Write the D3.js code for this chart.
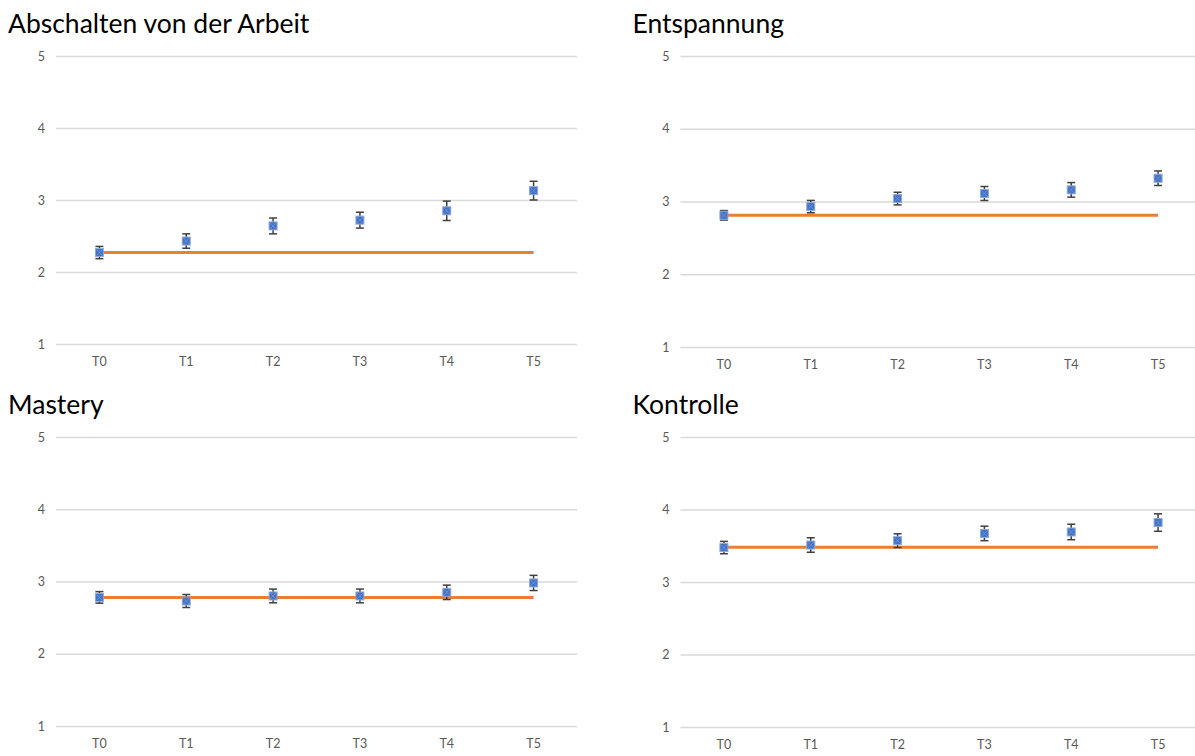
<!DOCTYPE html>
<html>
<head>
<meta charset="utf-8">
<script src="https://cdn.jsdelivr.net/npm/d3@7"></script>
<style>
  body { margin: 0; background: #fff; }
  svg { display: block; font-family: Lato, "Open Sans", sans-serif; }
</style>
</head>
<body>
<div id="chart"></div>
<script>

// The data
var categories = ["T0", "T1", "T2", "T3", "T4", "T5"];
var yTicks = [1, 2, 3, 4, 5];
var titles = ["Abschalten von der Arbeit", "Entspannung", "Mastery", "Kontrolle"];

var abschaltenMean = [2.27, 2.43, 2.64, 2.72, 2.85, 3.13];
var abschaltenErr = [0.085, 0.10, 0.11, 0.11, 0.135, 0.13];
var abschaltenBase = 2.27;

var entspannungMean = [2.81, 2.93, 3.04, 3.11, 3.16, 3.32];
var entspannungErr = [0.065, 0.085, 0.087, 0.096, 0.10, 0.10];
var entspannungBase = 2.81;

var masteryMean = [2.78, 2.73, 2.80, 2.80, 2.85, 2.98];
var masteryErr = [0.08, 0.09, 0.095, 0.095, 0.10, 0.105];
var masteryBase = 2.78;

var kontrolleMean = [3.475, 3.51, 3.57, 3.67, 3.69, 3.82];
var kontrolleErr = [0.085, 0.10, 0.095, 0.10, 0.107, 0.12];
var kontrolleBase = 3.48;

var means = [abschaltenMean, entspannungMean, masteryMean, kontrolleMean];
var errs = [abschaltenErr, entspannungErr, masteryErr, kontrolleErr];
var bases = [abschaltenBase, entspannungBase, masteryBase, kontrolleBase];

// The svg
var width = 1195;
var height = 756;

var svg = d3.select("#chart")
    .append("svg")
    .attr("width", width)
    .attr("height", height);

// where each of the 4 plot areas sits
var layout = [
    { left: 56, right: 577, top: 56, bottom: 344 },
    { left: 680.5, right: 1201.5, top: 56, bottom: 347 },
    { left: 56, right: 577, top: 437, bottom: 726 },
    { left: 680.5, right: 1201.5, top: 437, bottom: 727 }
];

layout.forEach(function (box, i) {

    var g = svg.append("g");

    var x = d3.scaleBand()
        .domain(categories)
        .range([box.left, box.right])
        .padding(0);

    var y = d3.scaleLinear()
        .domain([1, 5])
        .range([box.bottom, box.top]);

    var cx = function (c) { return x(c) + x.bandwidth() / 2 };

    // title
    g.append("text")
        .attr("x", box.left - 48)
        .attr("y", box.top - 23)
        .attr("font-size", 26.5)
        .attr("fill", "#000")
        .text(titles[i]);

    // gridlines + y labels
    g.append("g")
        .attr("transform", "translate(" + box.left + ",0)")
        .call(d3.axisLeft(y)
            .tickValues(yTicks)
            .tickSize(-(box.right - box.left))
            .tickPadding(11)
            .tickFormat(d3.format("d")))
        .call(function (a) { a.select(".domain").remove() })
        .call(function (a) {
            a.selectAll(".tick line").attr("stroke", "#d9d9d9").attr("stroke-width", 1.3);
            a.selectAll(".tick text").attr("fill", "#595959").attr("font-size", 12.5)
                .attr("font-family", "Lato, sans-serif");
        });

    // x axis labels
    g.append("g")
        .attr("transform", "translate(0," + box.bottom + ")")
        .call(d3.axisBottom(x).tickSize(0).tickPadding(13))
        .call(function (a) { a.select(".domain").remove() })
        .call(function (a) {
            a.selectAll(".tick text").attr("fill", "#595959").attr("font-size", 12.5)
                .attr("font-family", "Lato, sans-serif");
        });

    // baseline (value at T0)
    g.append("line")
        .attr("x1", cx(categories[0]))
        .attr("x2", cx(categories[categories.length - 1]))
        .attr("y1", y(bases[i]))
        .attr("y2", y(bases[i]))
        .attr("stroke", "#ed7d31")
        .attr("stroke-width", 3);

    var pts = categories.map(function (c, j) {
        return { cat: c, m: means[i][j], e: errs[i][j] };
    });

    // error bars
    var eb = g.selectAll("g.err")
        .data(pts)
        .enter()
        .append("g")
        .attr("class", "err")
        .attr("stroke", "#404040")
        .attr("stroke-width", 1.5);

    eb.append("line")
        .attr("x1", function (d) { return cx(d.cat) })
        .attr("x2", function (d) { return cx(d.cat) })
        .attr("y1", function (d) { return y(d.m - d.e) })
        .attr("y2", function (d) { return y(d.m + d.e) });

    eb.append("line")
        .attr("x1", function (d) { return cx(d.cat) - 4 })
        .attr("x2", function (d) { return cx(d.cat) + 4 })
        .attr("y1", function (d) { return y(d.m + d.e) })
        .attr("y2", function (d) { return y(d.m + d.e) });

    eb.append("line")
        .attr("x1", function (d) { return cx(d.cat) - 4 })
        .attr("x2", function (d) { return cx(d.cat) + 4 })
        .attr("y1", function (d) { return y(d.m - d.e) })
        .attr("y2", function (d) { return y(d.m - d.e) });

    // square markers
    var mk = g.selectAll("g.mk")
        .data(pts)
        .enter()
        .append("g")
        .attr("class", "mk")
        .attr("transform", function (d) { return "translate(" + cx(d.cat) + "," + y(d.m) + ")" });

    mk.append("rect")
        .attr("x", -4)
        .attr("y", -4)
        .attr("width", 8)
        .attr("height", 8)
        .attr("fill", "#4472c4")
        .attr("stroke", "#8eaadb")
        .attr("stroke-width", 1);

    mk.append("path")
        .attr("d", "M-3,-3L3,3M-3,3L3,-3")
        .attr("stroke", "#6f95d8")
        .attr("stroke-width", 0.8);
});

</script>
</body>
</html>
